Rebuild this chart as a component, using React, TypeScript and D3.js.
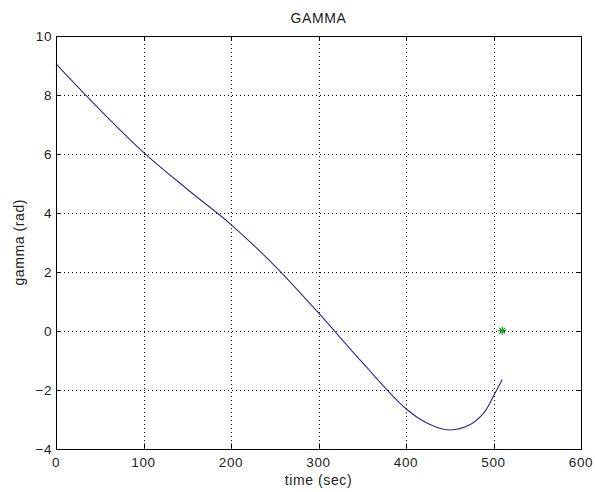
import { useEffect, useRef } from "react";
import * as d3 from "d3";

// values
const time = [0, 50, 100, 150, 200, 250, 300, 350, 400, 425, 450, 475, 490, 500, 510];
const gamma = [9.05, 7.5, 6.05, 4.8, 3.6, 2.2, 0.6, -1.08, -2.65, -3.15, -3.37, -3.16, -2.75, -2.22, -1.66];
const markerTime = [510];
const markerGamma = [0];
const xTicks = [0, 100, 200, 300, 400, 500, 600];
const yTicks = [-4, -2, 0, 2, 4, 6, 8, 10];

const W = 595;
const H = 492;
const FONT = "'Liberation Sans', Arial, sans-serif";

export default function App() {
  const ref = useRef<SVGSVGElement | null>(null);

  useEffect(() => {
    const svg = d3.select(ref.current);
    svg.selectAll("*").remove();

    const margin = { top: 36, right: 14, bottom: 43.5, left: 56 };
    const x = d3.scaleLinear().domain([0, 600]).range([margin.left, W - margin.right]);
    const y = d3.scaleLinear().domain([-4, 10]).range([H - margin.bottom, margin.top]);
    const [x0, x1] = x.range();
    const [y0, y1] = y.range();

    svg.append("rect").attr("width", W).attr("height", H).attr("fill", "#fff");

    // dotted grid
    const grid = svg.append("g").attr("stroke", "#000").attr("stroke-width", 1).attr("stroke-dasharray", "1,3");
    grid.selectAll("line.gx")
      .data(xTicks.filter((d) => d > 0 && d < 600))
      .join("line")
      .attr("x1", (d) => Math.round(x(d)) + 0.5)
      .attr("x2", (d) => Math.round(x(d)) + 0.5)
      .attr("y1", y1)
      .attr("y2", y0);
    grid.selectAll("line.gy")
      .data(yTicks.filter((d) => d > -4 && d < 10))
      .join("line")
      .attr("class", "gy")
      .attr("x1", x0)
      .attr("x2", x1)
      .attr("y1", (d) => Math.round(y(d)) + 0.5)
      .attr("y2", (d) => Math.round(y(d)) + 0.5);

    // data line
    const line = d3
      .line<number>()
      .x((_, i) => x(time[i]))
      .y((d) => y(d))
      .curve(d3.curveCatmullRom.alpha(0.5));
    svg.append("path")
      .datum(gamma)
      .attr("fill", "none")
      .attr("stroke", "#2a2a9a")
      .attr("stroke-width", 1.1)
      .attr("d", line);

    // green asterisk marker
    const star = svg.append("g").attr("stroke", "#1a9a1a").attr("stroke-width", 1.2);
    markerTime.forEach((t, i) => {
      const cx = x(t);
      const cy = y(markerGamma[i]);
      const r = 4;
      [0, 45, 90, 135].forEach((a) => {
        const rad = (a * Math.PI) / 180;
        star.append("line")
          .attr("x1", cx - r * Math.cos(rad))
          .attr("y1", cy - r * Math.sin(rad))
          .attr("x2", cx + r * Math.cos(rad))
          .attr("y2", cy + r * Math.sin(rad));
      });
    });

    // box and inward ticks
    const axes = svg.append("g").attr("stroke", "#000").attr("stroke-width", 1).attr("fill", "none");
    axes.append("rect")
      .attr("x", Math.round(x0) + 0.5)
      .attr("y", Math.round(y1) + 0.5)
      .attr("width", Math.round(x1) - Math.round(x0))
      .attr("height", Math.round(y0) - Math.round(y1));
    const tl = 5;
    xTicks.forEach((d) => {
      const px = Math.round(x(d)) + 0.5;
      axes.append("line").attr("x1", px).attr("x2", px).attr("y1", y0).attr("y2", y0 - tl);
      axes.append("line").attr("x1", px).attr("x2", px).attr("y1", y1).attr("y2", y1 + tl);
    });
    yTicks.forEach((d) => {
      const py = Math.round(y(d)) + 0.5;
      axes.append("line").attr("x1", x0).attr("x2", x0 + tl).attr("y1", py).attr("y2", py);
      axes.append("line").attr("x1", x1).attr("x2", x1 - tl).attr("y1", py).attr("y2", py);
    });

    // tick labels
    const txt = svg.append("g")
      .attr("font-family", FONT)
      .attr("font-size", 13.5)
      .attr("letter-spacing", 0.6)
      .attr("fill", "#222");
    txt.selectAll("text.xt")
      .data(xTicks)
      .join("text")
      .attr("x", (d) => x(d))
      .attr("y", y0 + 18)
      .attr("text-anchor", "middle")
      .text((d) => d3.format("d")(d));
    txt.selectAll("text.yt")
      .data(yTicks)
      .join("text")
      .attr("class", "yt")
      .attr("x", x0 - 4)
      .attr("y", (d) => y(d) + 5)
      .attr("text-anchor", "end")
      .text((d) => d3.format("d")(d));

    // titles
    const labels = svg.append("g")
      .attr("font-family", FONT)
      .attr("font-size", 14)
      .attr("letter-spacing", 0.6)
      .attr("fill", "#222")
      .attr("text-anchor", "middle");
    labels.append("text")
      .attr("x", (x0 + x1) / 2)
      .attr("y", 23)
      .text("GAMMA");
    labels.append("text")
      .attr("x", (x0 + x1) / 2)
      .attr("y", 485)
      .text("time (sec)");
    labels.append("text")
      .attr("transform", `translate(24,${(y0 + y1) / 2}) rotate(-90)`)
      .text("gamma (rad)");
  }, []);

  return (
    <svg
      ref={ref}
      width={W}
      height={H}
      style={{ position: "absolute", left: 0, top: 0, display: "block" }}
    />
  );
}
